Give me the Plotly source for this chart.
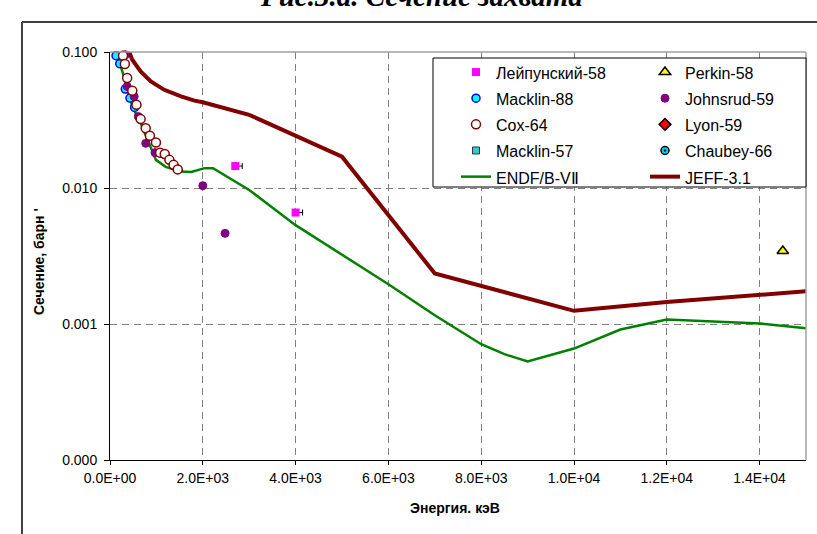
import plotly.graph_objects as go

# ---------------- data ----------------
endf_e = [90, 210, 300, 480, 660, 840, 990, 1200, 1530, 1750, 2040, 2220, 3000, 4000,
          5000, 6000, 7000, 8000, 8500, 9000, 10000, 11000, 12000, 13000, 14000, 15000]
endf_s = [0.107, 0.083, 0.066, 0.0397, 0.030, 0.0213, 0.0161, 0.0143, 0.0132, 0.0131,
          0.0140, 0.0140, 0.00966, 0.00533, 0.00324, 0.00196, 0.00116, 0.00071, 0.00060,
          0.00053, 0.00066, 0.00091, 0.00108, 0.00105, 0.00101, 0.00093]

jeff_e = [300, 480, 660, 880, 1170, 1530, 1820, 2000, 3000, 5000, 7000, 10000, 12000, 14000, 15000]
jeff_s = [0.125, 0.0878, 0.0719, 0.0607, 0.0527, 0.0471, 0.0439, 0.0427, 0.0345, 0.0170,
          0.00235, 0.00125, 0.00145, 0.00163, 0.00174]

leip_e = [2700, 4000]
leip_s = [0.0145, 0.0066]
leip_err = [150, 150]

macklin88_e = [130, 210, 330, 430, 530]
macklin88_s = [0.094, 0.082, 0.0534, 0.0458, 0.0391]

cox_e = [210, 280, 320, 370, 480, 570, 660, 770, 860, 990, 1080, 1180, 1280, 1370, 1460]
cox_s = [0.103, 0.094, 0.0816, 0.0643, 0.0519, 0.0409, 0.0321, 0.0275, 0.0242, 0.0216,
         0.0182, 0.0178, 0.0161, 0.0148, 0.0137]

johnsrud_e = [330, 370, 520, 610, 770, 970, 2000, 2480]
johnsrud_s = [0.0955, 0.0558, 0.0471, 0.0335, 0.0213, 0.0182, 0.0104, 0.00464]

perkin_e = [14500]
perkin_s = [0.00344]

# series that appear only in the legend (no visible points in the chart)
macklin57_e, macklin57_s = [None], [None]
lyon_e, lyon_s = [None], [None]
chaubey_e, chaubey_s = [None], [None]

x_tickvals = [0, 2000, 4000, 6000, 8000, 10000, 12000, 14000]
x_ticktext = ["0.0E+00", "2.0E+03", "4.0E+03", "6.0E+03", "8.0E+03", "1.0E+04", "1.2E+04", "1.4E+04"]
y_tickvals = [1e-4, 1e-3, 1e-2, 1e-1]
y_ticktext = ["0.000", "0.001", "0.010", "0.100"]

FONT = "Liberation Sans, Arial, sans-serif"


def nm(s):
    return '<span style="font-size:16px">' + s + '</span>'


fig = go.Figure()

# lines (drawn below markers)
fig.add_trace(go.Scatter(x=endf_e, y=endf_s, mode="lines", name=nm("ENDF/B-VⅡ"),
                         line=dict(color="#008000", width=2.5), legend="legend", legendrank=5))
fig.add_trace(go.Scatter(x=jeff_e, y=jeff_s, mode="lines", name=nm("JEFF-3.1"),
                         line=dict(color="#800000", width=4), legend="legend2", legendrank=5))

# markers
fig.add_trace(go.Scatter(x=macklin88_e, y=macklin88_s, mode="markers", name=nm("Macklin-88"),
                         marker=dict(symbol="circle", size=8, color="#00FFFF",
                                     line=dict(color="#0000FF", width=1.5)),
                         cliponaxis=False, legend="legend", legendrank=2))
fig.add_trace(go.Scatter(x=johnsrud_e, y=johnsrud_s, mode="markers", name=nm("Johnsrud-59"),
                         marker=dict(symbol="circle", size=8, color="#800080",
                                     line=dict(color="#800080", width=1)),
                         cliponaxis=False, legend="legend2", legendrank=2))
fig.add_trace(go.Scatter(x=cox_e, y=cox_s, mode="markers", name=nm("Cox-64"),
                         marker=dict(symbol="circle", size=9, color="#FFFFFF",
                                     line=dict(color="#800000", width=1.5)),
                         cliponaxis=False, legend="legend", legendrank=3))
fig.add_trace(go.Scatter(x=leip_e, y=leip_s, mode="markers", name=nm("Лейпунский-58"),
                         marker=dict(symbol="square", size=8, color="#FF00FF"),
                         error_x=dict(type="data", symmetric=False, array=leip_err,
                                      arrayminus=[0, 0], color="#000000",
                                      thickness=1, width=3),
                         cliponaxis=False, legend="legend", legendrank=1))
fig.add_trace(go.Scatter(x=macklin57_e, y=macklin57_s, mode="markers", name=nm("Macklin-57"),
                         marker=dict(symbol="square", size=7, color="#33CCCC",
                                     line=dict(color="#333333", width=1)),
                         legend="legend", legendrank=4))
fig.add_trace(go.Scatter(x=perkin_e, y=perkin_s, mode="markers", name=nm("Perkin-58"),
                         marker=dict(symbol="triangle-up", size=10, color="#FFFF00",
                                     line=dict(color="#000000", width=1.5)),
                         cliponaxis=False, legend="legend2", legendrank=1))
fig.add_trace(go.Scatter(x=lyon_e, y=lyon_s, mode="markers", name=nm("Lyon-59"),
                         marker=dict(symbol="diamond", size=9, color="#FF0000",
                                     line=dict(color="#000000", width=1.5)),
                         legend="legend2", legendrank=3))
fig.add_trace(go.Scatter(x=chaubey_e, y=chaubey_s, mode="markers", name=nm("Chaubey-66"),
                         marker=dict(symbol="circle-dot", size=8, color="#00CCFF",
                                     line=dict(color="#000000", width=1.5)),
                         legend="legend2", legendrank=4))

L, R, T, B = 110, 11, 52, 74
W, H = 817, 534
pw, ph = W - L - R, H - T - B


def px2x(p):
    return (p - L) / pw


def px2y(p):
    return (H - B - p) / ph


leg_common = dict(orientation="v", bgcolor="rgba(0,0,0,0)", borderwidth=0,
                  font=dict(family=FONT, size=17.8, color="#000000"),
                  yanchor="top", xanchor="left", traceorder="normal")

fig.update_layout(
    width=W, height=H,
    margin=dict(l=L, r=R, t=T, b=B, pad=0, autoexpand=False),
    paper_bgcolor="#FFFFFF", plot_bgcolor="#FFFFFF",
    font=dict(family=FONT, color="#000000"),
    showlegend=True,
    legend=dict(x=px2x(456), y=px2y(54), **leg_common),
    legend2=dict(x=px2x(645), y=px2y(54), **leg_common),
    xaxis=dict(range=[0, 15000], tickvals=x_tickvals, ticktext=x_ticktext,
               showline=True, linecolor="#000000", linewidth=1,
               ticks="outside", ticklen=4, tickcolor="#000000",
               ticklabelstandoff=1, automargin=False,
               showgrid=True, gridcolor="#808080", gridwidth=1, griddash="7px,5px",
               zeroline=False, tickfont=dict(family=FONT, size=14, color="#000000")),
    yaxis=dict(type="log", range=[-4, -1], tickvals=y_tickvals, ticktext=y_ticktext,
               showline=True, linecolor="#000000", linewidth=1,
               ticks="outside", ticklen=5, tickcolor="#000000",
               ticklabelstandoff=4, automargin=False,
               showgrid=True, gridcolor="#808080", gridwidth=1, griddash="7px,5px",
               zeroline=False, tickfont=dict(family=FONT, size=14, color="#000000")),
    shapes=[
        # plot area top/right border (grey)
        dict(type="line", xref="paper", yref="paper", x0=0, x1=1, y0=1, y1=1,
             line=dict(color="#A0A0A0", width=1.5), layer="above"),
        dict(type="line", xref="paper", yref="paper", x0=1, x1=1, y0=0, y1=1,
             line=dict(color="#A0A0A0", width=1.5), layer="above"),
        # legend box
        dict(type="rect", xref="paper", yref="paper",
             x0=px2x(433), x1=px2x(806), y0=px2y(187), y1=px2y(58),
             fillcolor="#FFFFFF", line=dict(color="#000000", width=1), layer="above"),
        # outer chart frame
        dict(type="line", xref="paper", yref="paper", x0=px2x(22), x1=px2x(830),
             y0=px2y(22), y1=px2y(22), line=dict(color="#404040", width=2), layer="above"),
        dict(type="line", xref="paper", yref="paper", x0=px2x(22), x1=px2x(22),
             y0=px2y(22), y1=px2y(560), line=dict(color="#404040", width=2), layer="above"),
    ],
    annotations=[
        dict(text="<b><i>Рис.3.а. Сечение захвата</i></b>", xref="paper", yref="paper",
             x=px2x(421), y=px2y(14), xanchor="center", yanchor="bottom", showarrow=False,
             font=dict(family="Liberation Serif, Times New Roman, serif", size=29, color="#000000")),
        dict(text="<b>Энергия. кэВ</b>", xref="paper", yref="paper",
             x=px2x(455), y=px2y(508), xanchor="center", yanchor="middle", showarrow=False,
             font=dict(family=FONT, size=14, color="#000000")),
        dict(text="<b>Сечение, барн '</b>", xref="paper", yref="paper",
             x=px2x(39), y=px2y(262), xanchor="center", yanchor="middle", showarrow=False,
             textangle=-90, font=dict(family=FONT, size=14, color="#000000")),
    ],
)

fig.write_html("out.html", config={"displayModeBar": False},
               post_script="document.body.style.margin='0';")
